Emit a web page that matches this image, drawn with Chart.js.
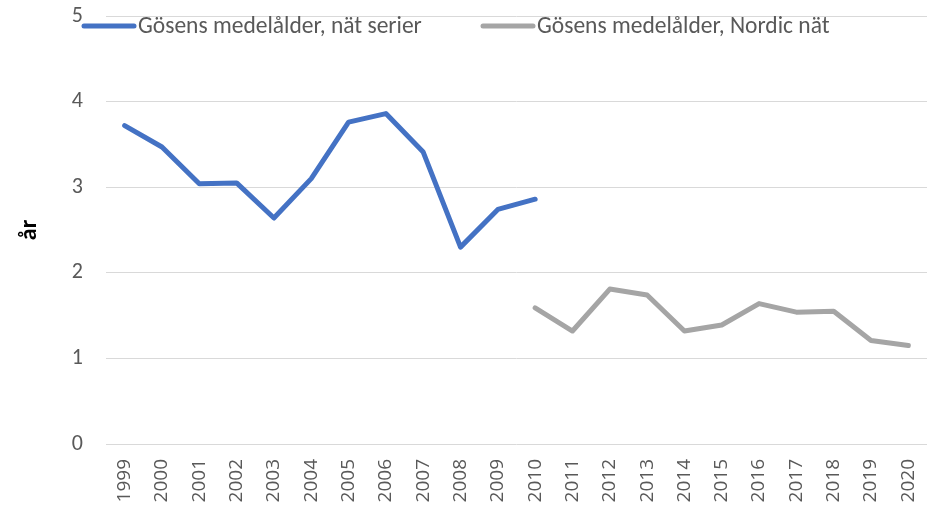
<!DOCTYPE html>
<html>
<head>
<meta charset="utf-8">
<script src="https://cdn.jsdelivr.net/npm/chart.js@4"></script>
<style>
html,body{margin:0;padding:0;background:#fff;}
#wrap{width:934px;height:507px;position:relative;}
</style>
</head>
<body>
<div id="wrap"><canvas id="c" width="934" height="507"></canvas></div>
<script>
const categories = ['1999','2000','2001','2002','2003','2004','2005','2006','2007','2008','2009','2010','2011','2012','2013','2014','2015','2016','2017','2018','2019','2020'];
const seriesNames = ['Gösens medelålder, nät serier', 'Gösens medelålder, Nordic nät'];
const natSerier = [3.72,3.47,3.04,3.05,2.64,3.10,3.76,3.86,3.41,2.30,2.74,2.86,null,null,null,null,null,null,null,null,null,null];
const nordicNat = [null,null,null,null,null,null,null,null,null,null,null,1.59,1.32,1.81,1.74,1.32,1.39,1.64,1.54,1.55,1.21,1.15];
const yTicks = [0,1,2,3,4,5];
const yTitle = 'år';

const FONT = "Carlito, 'Liberation Sans Narrow', 'Open Sans', sans-serif";
const XFONT = "'Open Sans', 'DejaVu Sans', sans-serif";
const TXT = '#595959';

const legendPlugin = {
  id: 'customLegend',
  afterDraw(chart) {
    const ctx = chart.ctx;
    const items = [{x: 82}, {x: 481}];
    ctx.save();
    ctx.font = "23.5px " + FONT;
    ctx.textBaseline = 'middle';
    ctx.textAlign = 'left';
    chart.data.datasets.forEach((ds, i) => {
      const x0 = items[i].x, y = 26;
      ctx.strokeStyle = ds.borderColor;
      ctx.lineWidth = 5;
      ctx.lineCap = 'round';
      ctx.beginPath();
      ctx.moveTo(x0 + 2, y);
      ctx.lineTo(x0 + 52, y);
      ctx.stroke();
      ctx.fillStyle = TXT;
      ctx.fillText(ds.label, x0 + 56, y + 1);
    });
    ctx.restore();
  }
};

new Chart(document.getElementById('c'), {
  type: 'line',
  data: {
    labels: categories,
    datasets: [
      {label: seriesNames[0], data: natSerier, borderColor: '#4472C4', backgroundColor: '#4472C4', borderWidth: 5, pointRadius: 0, borderCapStyle: 'round', borderJoinStyle: 'round', tension: 0, spanGaps: false},
      {label: seriesNames[1], data: nordicNat, borderColor: '#A5A5A5', backgroundColor: '#A5A5A5', borderWidth: 5, pointRadius: 0, borderCapStyle: 'round', borderJoinStyle: 'round', tension: 0, spanGaps: false}
    ]
  },
  options: {
    responsive: false,
    animation: false,
    layout: {padding: {left: 0, right: 7, top: 16, bottom: 0}},
    plugins: {legend: {display: false}, tooltip: {enabled: false}},
    scales: {
      x: {
        offset: true,
        grid: {display: false, drawTicks: false},
        border: {display: false},
        ticks: {color: TXT, font: {family: XFONT, size: 19}, minRotation: 90, maxRotation: 90, autoSkip: false, padding: 15},
        afterFit(scale) { scale.height = 63; scale.paddingLeft = 0; scale.paddingRight = 0; }
      },
      y: {
        min: 0, max: 5,
        afterBuildTicks(scale) { scale.ticks = yTicks.map(v => ({value: v})); },
        grid: {color: '#D9D9D9', lineWidth: 1, drawTicks: false},
        border: {display: false},
        ticks: {color: TXT, font: {family: FONT, size: 22}, padding: 23},
        title: {display: true, text: yTitle, color: '#000', font: {family: FONT, size: 24, weight: 'bold'}, padding: {top: 16, bottom: 0}},
        afterFit(scale) { scale.width = 106; scale.paddingTop = 0; scale.paddingBottom = 0; }
      }
    }
  },
  plugins: [legendPlugin]
});
</script>
</body>
</html>
